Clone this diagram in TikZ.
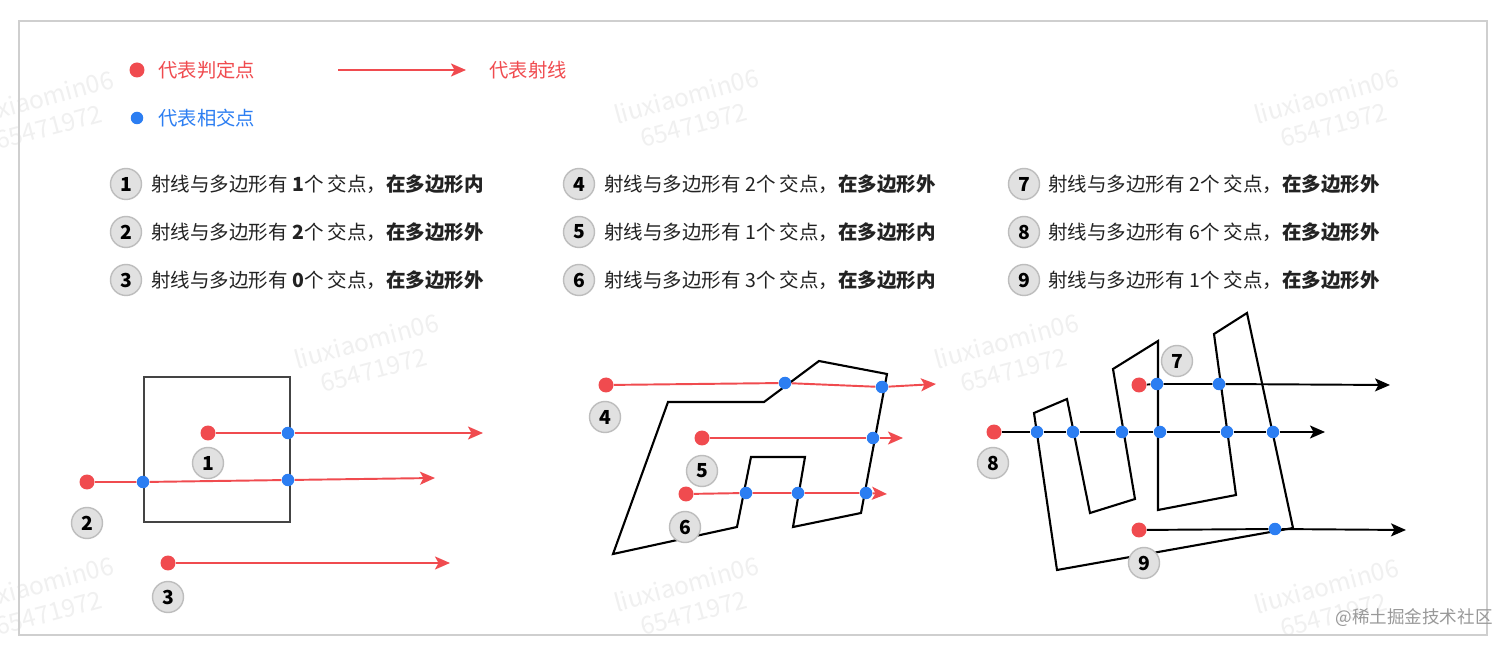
\documentclass[tikz,border=0pt]{standalone}
\usepackage{fontspec}
\setmainfont{Noto Sans CJK SC}
\usepackage{xcolor}
\usetikzlibrary{arrows.meta}
\definecolor{rayred}{HTML}{F04B4F}
\definecolor{dotblue}{HTML}{2C7EF2}
\definecolor{badgefill}{HTML}{E1E1E1}
\definecolor{badgeline}{HTML}{BDBDBD}
\definecolor{framegray}{HTML}{CFCFCF}
\definecolor{itemgray}{HTML}{222222}
\definecolor{boxgray}{HTML}{444444}

\begin{document}
\begin{tikzpicture}[x=0.02cm, y=-0.02cm,
					judge/.style={circle, fill=rayred, inner sep=0pt, minimum size=0.3cm},
					cross/.style={circle, fill=dotblue, inner sep=0pt, minimum size=0.25cm},
					badge/.style={circle, draw=badgeline, fill=badgefill, line width=0.8pt,
						inner sep=0pt, minimum size=0.62cm, font=\fontsize{11}{12}\selectfont\bfseries},
					ray/.style={draw=rayred, line width=1.1pt, -{Stealth[length=0.3cm, width=0.26cm, inset=0.07cm]}},
					blackray/.style={draw=black, line width=1.1pt, -{Stealth[length=0.3cm, width=0.26cm, inset=0.07cm]}},
					poly/.style={draw=black, line width=1.2pt, line join=miter},
					itemtext/.style={anchor=west, inner sep=0pt, text=itemgray, font=\fontsize{11.1}{13}\selectfont},
					legendtext/.style={anchor=west, inner sep=0pt, font=\fontsize{11}{13}\selectfont},
					watermark/.style={rotate=15, align=center, text=black!6, font=\fontsize{14}{17}\selectfont}
					]
	\useasboundingbox (0,0) rectangle (1512,648);
	\fill[white] (0,0) rectangle (1512,648);
	% watermarks
	\begin{scope}
		\clip (0,0) rectangle (1512,648);
		\node[watermark] (wm1) at (45,112) {liuxiaomin06\\65471972};
		\node[watermark] (wm2) at (690,110) {liuxiaomin06\\65471972};
		\node[watermark] (wm3) at (1330,110) {liuxiaomin06\\65471972};
		\node[watermark] (wm4) at (370,355) {liuxiaomin06\\65471972};
		\node[watermark] (wm5) at (1010,355) {liuxiaomin06\\65471972};
		\node[watermark] (wm6) at (45,598) {liuxiaomin06\\65471972};
		\node[watermark] (wm7) at (690,598) {liuxiaomin06\\65471972};
		\node[watermark] (wm8) at (1330,600) {liuxiaomin06\\65471972};
	\end{scope}
	\draw[framegray, line width=1pt] (19,21) rectangle (1487,635);

	% legend
	\node[judge] (lgjudge) at (137,70) {};
	\node[legendtext, text=rayred] (lgjudgetxt) at (158,70) {代表判定点};
	\coordinate (lgrayA) at (338,70);
	\coordinate (lgrayB) at (466,70);
	\draw[ray] (lgrayA) -- (lgrayB);
	\node[legendtext, text=rayred] (lgraytxt) at (489,70) {代表射线};
	\node[cross] (lgcross) at (137,118) {};
	\node[legendtext, text=dotblue] (lgcrosstxt) at (158,118) {代表相交点};

	% explanations
	\node[badge] (b1) at (126,184) {1};
	\node[itemtext] (t1) at (151,184) {射线与多边形有 \textbf{1}个 交点，\textbf{在多边形内}};
	\node[badge] (b2) at (126,232) {2};
	\node[itemtext] (t2) at (151,232) {射线与多边形有 \textbf{2}个 交点，\textbf{在多边形外}};
	\node[badge] (b3) at (126,280) {3};
	\node[itemtext] (t3) at (151,280) {射线与多边形有 \textbf{0}个 交点，\textbf{在多边形外}};
	\node[badge] (b4) at (579,184) {4};
	\node[itemtext] (t4) at (604,184) {射线与多边形有 2个 交点，\textbf{在多边形外}};
	\node[badge] (b5) at (579,232) {5};
	\node[itemtext] (t5) at (604,232) {射线与多边形有 1个 交点，\textbf{在多边形内}};
	\node[badge] (b6) at (579,280) {6};
	\node[itemtext] (t6) at (604,280) {射线与多边形有 3个 交点，\textbf{在多边形内}};
	\node[badge] (b7) at (1024,184) {7};
	\node[itemtext] (t7) at (1048,184) {射线与多边形有 2个 交点，\textbf{在多边形外}};
	\node[badge] (b8) at (1024,232) {8};
	\node[itemtext] (t8) at (1048,232) {射线与多边形有 6个 交点，\textbf{在多边形外}};
	\node[badge] (b9) at (1024,280) {9};
	\node[itemtext] (t9) at (1048,280) {射线与多边形有 1个 交点，\textbf{在多边形外}};

	% polygons
	\draw[boxgray, line width=1.2pt] (144,377) rectangle (290,522);
	\draw[poly] (613,554) -- (668,402) -- (764,402) -- (819,361) -- (887,374) -- (861,513)
		-- (793,527) -- (805,457) -- (751,457) -- (737,527) -- cycle;
	\draw[poly] (1034,413) -- (1067,399) -- (1090,513) -- (1135,499) -- (1113,369) -- (1158,341)
		-- (1158,510) -- (1236,495) -- (1214,334) -- (1247,313) -- (1293,528) -- (1057,570) -- cycle;

	% case 1 - 3
	\node[judge] (p1) at (208,433) {};
	\node[cross] (c1a) at (288,433) {};
	\coordinate (e1) at (483,433);
	\draw[ray] (p1) -- (c1a) -- (e1);
	\node[badge] (n1) at (208,463) {1};
	\node[judge] (p2) at (87,482) {};
	\node[cross] (c2a) at (143,482) {};
	\node[cross] (c2b) at (288,480) {};
	\coordinate (e2) at (435,478);
	\draw[ray] (p2) -- (c2a) -- (c2b) -- (e2);
	\node[badge] (n2) at (87,523) {2};
	\node[judge] (p3) at (168,563) {};
	\coordinate (e3) at (450,563);
	\draw[ray] (p3) -- (e3);
	\node[badge] (n3) at (168,597) {3};

	% case 4 - 6
	\node[judge] (p4) at (606,385) {};
	\node[cross] (c4a) at (785,383) {};
	\node[cross] (c4b) at (882,387) {};
	\coordinate (e4) at (936,384);
	\draw[ray] (p4) -- (c4a) -- (c4b) -- (e4);
	\node[badge] (n4) at (605,417) {4};
	\node[judge] (p5) at (702,438) {};
	\node[cross] (c5a) at (873,438) {};
	\coordinate (e5) at (903,438);
	\draw[ray] (p5) -- (c5a) -- (e5);
	\node[badge] (n5) at (702,471) {5};
	\node[judge] (p6) at (686,494) {};
	\node[cross] (c6a) at (746,493) {};
	\node[cross] (c6b) at (798,493) {};
	\node[cross] (c6c) at (866,493) {};
	\coordinate (e6) at (887,494);
	\draw[ray] (p6) -- (c6a) -- (c6b) -- (c6c) -- (e6);
	\node[badge] (n6) at (685,527) {6};

	% case 7 - 9
	\node[judge] (p7) at (1139,385) {};
	\node[cross] (c7a) at (1157,384) {};
	\node[cross] (c7b) at (1219,384) {};
	\coordinate (e7) at (1390,385);
	\draw[blackray] (p7) -- (c7a) -- (c7b) -- (e7);
	\node[badge] (n7) at (1177,361) {7};
	\node[judge] (p8) at (994,432) {};
	\node[cross] (c8a) at (1037,432) {};
	\node[cross] (c8b) at (1073,432) {};
	\node[cross] (c8c) at (1122,432) {};
	\node[cross] (c8d) at (1160,432) {};
	\node[cross] (c8e) at (1227,432) {};
	\node[cross] (c8f) at (1273,432) {};
	\coordinate (e8) at (1325,432);
	\draw[blackray] (p8) -- (c8a) -- (c8b) -- (c8c) -- (c8d) -- (c8e) -- (c8f) -- (e8);
	\node[badge] (n8) at (993,463) {8};
	\node[judge] (p9) at (1139,530) {};
	\node[cross] (c9a) at (1275,529) {};
	\coordinate (e9) at (1406,530);
	\draw[blackray] (p9) -- (c9a) -- (e9);
	\node[badge] (n9) at (1144,563) {9};

	\node[anchor=east, inner sep=0pt, text=black!40, font=\fontsize{10}{12}\selectfont] (site) at (1493,618) {@稀土掘金技术社区};
\end{tikzpicture}
\end{document}
